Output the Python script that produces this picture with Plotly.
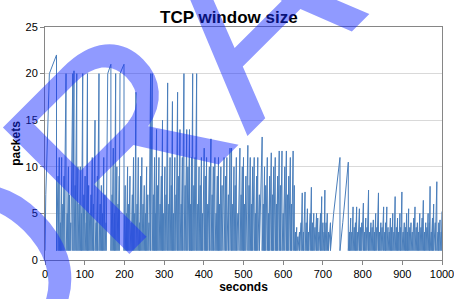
import plotly.graph_objects as go

# times (s) at which a loss occurs, and the window (packets) reached at that moment
loss_time = [2, 11, 29,
    33, 36, 39, 42, 45, 48, 53, 56, 59, 62, 65, 70, 73, 76, 80, 83, 86, 89, 92, 95, 98, 101, 104, 107,
    110, 113, 116, 119, 122, 126, 129, 132, 136, 139, 142, 145, 148, 151, 154, 158, 166, 169, 172, 175,
    178, 181, 184, 187, 189, 199, 202, 205, 208, 211, 214, 217, 220, 223, 226, 229, 232, 235, 238, 241,
    244, 247, 250, 253, 256, 259, 262, 266, 270, 273, 276, 278, 281, 284, 287, 290, 293, 296, 299, 302,
    305, 309, 312, 315, 318, 321, 324, 327, 330, 334, 337, 340, 343, 346, 350, 353, 357, 360, 364, 367,
    369, 372, 375, 378, 382, 385, 388, 391, 394, 397, 401, 404, 407, 410, 414, 418, 421, 424, 428, 431,
    434, 437, 440, 443, 446, 451, 455, 458, 462, 466, 470, 473, 476, 479, 482, 486, 491, 494, 497, 500,
    503, 506, 511, 514, 517, 520, 523, 527, 530, 533, 536, 540, 547, 550, 553, 556, 560, 563, 566, 570,
    573, 576, 580, 583, 586, 590, 593, 597, 600, 604, 608, 611, 614, 618, 621, 625, 628, 631,
    634, 637, 641, 645, 648, 651, 655, 658, 661, 664, 668, 671, 674, 677, 680, 684, 687, 690, 694, 697,
    700, 703, 705, 708, 711, 714, 719, 727, 743, 750, 764,
    767, 770, 773, 776, 779, 782, 785, 788, 792, 795, 798, 802, 805, 808, 811, 815, 818, 821, 824, 827,
    830, 833, 836, 840, 843, 846, 849, 853, 856, 858, 861, 864, 867, 870, 873, 876, 879, 882, 885, 888,
    891, 894, 896, 899, 902, 905, 908, 911, 913, 916, 919, 922, 925, 929, 932, 935, 938, 941, 944, 947,
    950, 953, 956, 959, 962, 965, 968, 970, 973, 976, 979, 983, 987, 990, 992, 995, 998, 1000]

loss_window = [7, 20, 22,
    9, 11, 4, 11, 6, 9, 20, 5, 10, 7, 4, 20, 20.3, 8, 20, 10, 6, 10, 5, 20, 7, 9, 4, 20,
    8, 5, 7, 11, 6, 15, 4, 9, 20, 6, 8, 5, 11, 7, 4, 20, 21, 7, 12, 5,
    20, 10, 6, 9, 20, 21, 8, 5, 10, 6, 9, 4, 7, 11, 5, 18, 6, 11, 4, 9,
    11, 6, 8, 5, 10, 7, 4, 20, 20, 7, 11, 5, 14, 8, 11, 6, 9, 15, 5, 10,
    7, 19, 6, 11, 8, 17, 5, 11, 7, 18, 9, 14, 6, 11, 20, 8, 14, 10, 14, 6,
    11, 20, 8, 11, 20, 6, 10, 8, 11, 5, 12, 9, 11, 6, 10, 13, 7, 10, 11, 5,
    9, 11, 6, 10, 8, 11, 9, 11, 7, 12, 12, 6, 10, 8, 11, 5, 12, 7, 10, 11,
    6, 9, 12.3, 8, 11, 6, 10, 11, 5, 9, 11, 7, 13.2, 6, 10, 8, 11, 5, 9, 11.5,
    7, 10, 11, 6, 9, 11.7, 8, 11.7, 5, 10, 11.7, 7, 9, 11, 6, 11.7, 8, 3,
    3.5, 2.5, 3, 4, 7.2, 3, 7.3, 4, 5.5, 3, 5, 7.8, 4, 5, 3.5, 5, 4.5, 3, 5, 6.8,
    4, 3, 7.5, 4, 5, 3, 4, 5, 11, 4, 10.5,
    3, 4.5, 3, 5.7, 3.5, 4, 5.7, 3, 5.5, 3.5, 4, 6.1, 3, 4.5, 3.5, 7.5, 3, 4, 3.5, 4.3,
    3, 5, 3.5, 7.2, 3, 4, 3.5, 5.7, 3, 4, 5.7, 3.5, 3, 4.5, 3.5, 5, 3, 6.8, 3.5, 4.5,
    3, 5, 3.5, 7.3, 3, 4, 3.5, 5, 3, 5.5, 3.5, 4, 3, 4.5, 5.7, 3.5, 4, 3, 5, 3.5,
    4.5, 6.4, 3, 4, 3.5, 5, 4, 7.9, 3, 4.5, 6, 4, 8.4, 3, 4, 4.3, 3, 5.2]

# loss times after which the window keeps growing instead of falling back
no_reset_times = [2, 11, 158, 189, 727, 750, 1000]
reset_window = 1

start_time, start_window = 0, 1

xs = [start_time]
ys = [start_window]
for t, w in zip(loss_time, loss_window):
    xs.append(t)
    ys.append(w)
    if t not in no_reset_times:
        xs.append(t)
        ys.append(reset_window)

x_ticks = list(range(0, 1001, 100))
y_ticks = [0, 5, 10, 15, 20, 25]

fig = go.Figure()
fig.add_trace(go.Scatter(x=xs, y=ys, mode="lines",
                         line=dict(color="#4A7EBB", width=1), showlegend=False,
                         hoverinfo="skip"))

font_fam = "Arial, Liberation Sans, sans-serif"
fig.update_layout(
    width=454, height=299,
    margin=dict(l=45, r=12, t=27, b=39),
    paper_bgcolor="white", plot_bgcolor="white",
    font=dict(family=font_fam, size=11, color="#000000"),
    xaxis=dict(range=[0, 1000], tickvals=x_ticks, ticks="outside", ticklen=4,
               tickcolor="#868686", showline=True, linecolor="#868686", linewidth=1,
               mirror=True, showgrid=False, zeroline=False, automargin=False,
               ticklabeloverflow="allow",
               title=dict(text="<b>seconds</b>", font=dict(size=12), standoff=2)),
    yaxis=dict(range=[0, 25], tickvals=y_ticks, ticks="outside", ticklen=4,
               tickcolor="#868686", showline=True, linecolor="#868686", linewidth=1,
               mirror=True, showgrid=True, gridcolor="#D9D9D9", zeroline=False,
               automargin=False, ticklabeloverflow="allow",
               title=dict(text="<b>packets</b>", font=dict(size=12), standoff=2)),
    annotations=[
        dict(text="<b>TCP window size</b>", xref="paper", yref="paper",
             x=0.4635, y=1.041, xanchor="center", yanchor="middle", showarrow=False,
             font=dict(family=font_fam, size=17, color="#000000")),
        dict(text="DRAFT", xref="paper", yref="paper", x=0.451, y=0.979,
             xanchor="center", yanchor="middle", showarrow=False,
             textangle=-45,
             font=dict(family="Liberation Sans, Arial", size=260,
                       color="rgba(20,40,255,0.47)")),
    ],
)

fig.write_html("out.html", config={"displayModeBar": False},
               post_script="document.body.style.margin='0px';document.body.style.padding='0px';")
